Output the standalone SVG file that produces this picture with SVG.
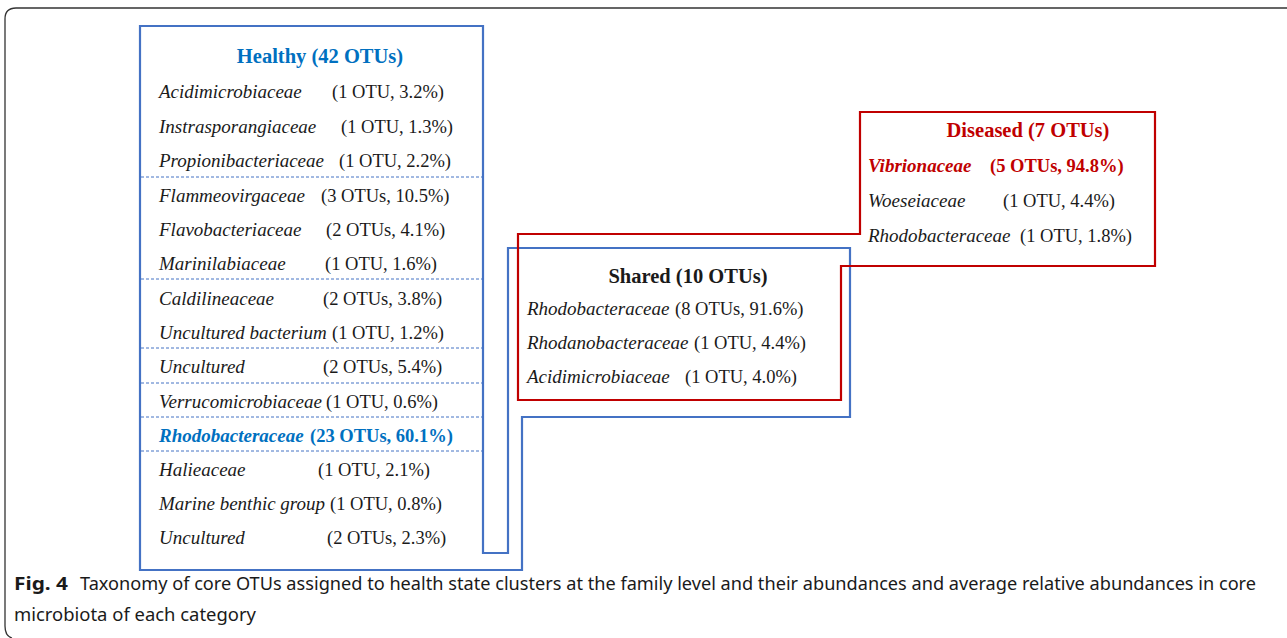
<svg xmlns="http://www.w3.org/2000/svg" width="1287" height="638" viewBox="0 0 1287 638">
<style>
.t{font-family:"Liberation Serif","Times New Roman",serif;font-size:18.5px;fill:#1a1a1a}
.i{font-style:italic;font-size:19px}
.b{font-weight:bold}
.title{font-family:"Liberation Serif","Times New Roman",serif;font-size:20.5px;font-weight:bold;text-anchor:middle}
.blue{fill:#0070C0}
.red{fill:#C00000}
.dash{stroke:#4472C4;stroke-width:1;stroke-dasharray:3 2;fill:none}
.bl{stroke:#4472C4;stroke-width:2.2;fill:none}
.rl{stroke:#C00000;stroke-width:2.2;fill:none}
.cap{font-family:"Noto Sans","Open Sans",sans-serif;font-size:18px;fill:#1a1a1a}
</style>
<rect width="1287" height="638" fill="#ffffff"/>
<path d="M1287,8 H16 Q5,8 5,19 V626 Q5,636 12,638" fill="none" stroke="#333" stroke-width="1.3"/>

<g id="connectors">
<path class="bl" d="M140,26 H483 V553 H508 V248 H850 V417 H522 V570 H140 Z"/>
<path class="rl" d="M860,112 H1155 V266 H841 V400 H518 V234 H860 Z"/>
</g>

<g id="healthy">
<text class="title blue" x="320" y="63">Healthy (42 OTUs)</text>
<line class="dash" x1="141" y1="177" x2="482" y2="177"/>
<line class="dash" x1="141" y1="279" x2="482" y2="279"/>
<line class="dash" x1="141" y1="348" x2="482" y2="348"/>
<line class="dash" x1="141" y1="383" x2="482" y2="383"/>
<line class="dash" x1="141" y1="417" x2="482" y2="417"/>
<line class="dash" x1="141" y1="451" x2="482" y2="451"/>
<text class="t i" x="159" y="98">Acidimicrobiaceae</text><text class="t" x="332" y="98">(1 OTU, 3.2%)</text>
<text class="t i" x="159" y="132.5">Instrasporangiaceae</text><text class="t" x="341" y="132.5">(1 OTU, 1.3%)</text>
<text class="t i" x="159" y="167">Propionibacteriaceae</text><text class="t" x="339" y="167">(1 OTU, 2.2%)</text>
<text class="t i" x="159" y="201.5">Flammeovirgaceae</text><text class="t" x="321" y="201.5">(3 OTUs, 10.5%)</text>
<text class="t i" x="159" y="235.5">Flavobacteriaceae</text><text class="t" x="326" y="235.5">(2 OTUs, 4.1%)</text>
<text class="t i" x="159" y="270">Marinilabiaceae</text><text class="t" x="325" y="270">(1 OTU, 1.6%)</text>
<text class="t i" x="159" y="304.5">Caldilineaceae</text><text class="t" x="323" y="304.5">(2 OTUs, 3.8%)</text>
<text class="t i" x="159" y="338.5">Uncultured bacterium</text><text class="t" x="332" y="338.5">(1 OTU, 1.2%)</text>
<text class="t i" x="159" y="373">Uncultured</text><text class="t" x="323" y="373">(2 OTUs, 5.4%)</text>
<text class="t i" x="159" y="407.5">Verrucomicrobiaceae</text><text class="t" x="326" y="407.5">(1 OTU, 0.6%)</text>
<text class="t i b blue" x="159" y="442">Rhodobacteraceae</text><text class="t b blue" x="310" y="442">(23 OTUs, 60.1%)</text>
<text class="t i" x="159" y="476">Halieaceae</text><text class="t" x="318" y="476">(1 OTU, 2.1%)</text>
<text class="t i" x="159" y="510">Marine benthic group</text><text class="t" x="330" y="510">(1 OTU, 0.8%)</text>
<text class="t i" x="159" y="544">Uncultured</text><text class="t" x="327" y="544">(2 OTUs, 2.3%)</text>
</g>

<g id="shared">
<text class="title" x="688" y="283" fill="#1a1a1a">Shared (10 OTUs)</text>
<text class="t i" x="527" y="315">Rhodobacteraceae</text><text class="t" x="675" y="315">(8 OTUs, 91.6%)</text>
<text class="t i" x="527" y="349">Rhodanobacteraceae</text><text class="t" x="694" y="349">(1 OTU, 4.4%)</text>
<text class="t i" x="527" y="383">Acidimicrobiaceae</text><text class="t" x="685" y="383">(1 OTU, 4.0%)</text>
</g>

<g id="diseased">
<text class="title red" x="1028" y="137">Diseased (7 OTUs)</text>
<text class="t i b red" x="868" y="172">Vibrionaceae</text><text class="t b red" x="990" y="172">(5 OTUs, 94.8%)</text>
<text class="t i" x="868" y="207">Woeseiaceae</text><text class="t" x="1003" y="207">(1 OTU, 4.4%)</text>
<text class="t i" x="868" y="242">Rhodobacteraceae</text><text class="t" x="1020" y="242">(1 OTU, 1.8%)</text>
</g>

<g id="caption">
<text class="cap" x="14" y="590" textLength="54" lengthAdjust="spacingAndGlyphs" font-weight="bold">Fig. 4</text>
<text class="cap" x="80" y="590" textLength="1176" lengthAdjust="spacingAndGlyphs">Taxonomy of core OTUs assigned to health state clusters at the family level and their abundances and average relative abundances in core</text>
<text class="cap" x="14" y="621" textLength="242" lengthAdjust="spacingAndGlyphs">microbiota of each category</text>
</g>
</svg>
